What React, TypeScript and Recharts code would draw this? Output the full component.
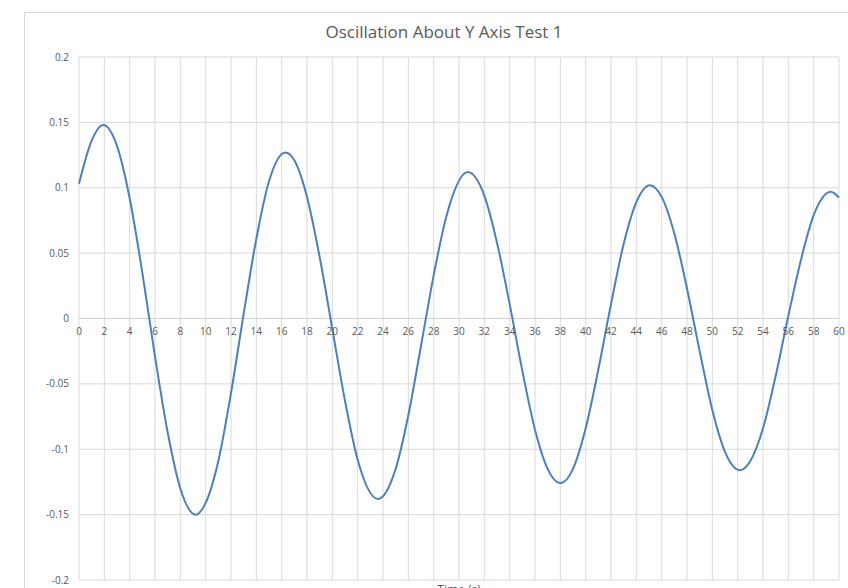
import React from 'react';
import { LineChart, Line, XAxis, YAxis, CartesianGrid, ReferenceLine, ReferenceDot } from 'recharts';

const timeValues: number[] = [
  0, 1, 1.92, 3, 4, 5, 6, 7, 8, 9.21,
  10, 11, 12, 13, 14, 15, 16.3, 17, 18, 19,
  20, 21, 22, 23.6, 25, 26, 27, 28, 29, 30.7,
  32, 33, 34, 35, 36, 37, 38, 39, 40, 41,
  42, 43, 44, 45.07, 46, 47, 48, 49, 50, 51,
  52.17, 53, 54, 55, 56, 57, 58, 59.35, 60,
];

const angleValues: number[] = [
  0.103, 0.136, 0.148, 0.132, 0.092, 0.035, -0.029, -0.087, -0.13, -0.15,
  -0.141, -0.109, -0.057, 0.0035, 0.061, 0.105, 0.127, 0.121, 0.093, 0.047,
  -0.008, -0.063, -0.108, -0.138, -0.115, -0.074, -0.021, 0.033, 0.078, 0.112,
  0.094, 0.058, 0.011, -0.04, -0.085, -0.115, -0.126, -0.115, -0.084, -0.039,
  0.011, 0.057, 0.089, 0.102, 0.093, 0.065, 0.023, -0.025, -0.07, -0.102,
  -0.116, -0.109, -0.084, -0.044, 0.002, 0.045, 0.079, 0.097, 0.0925,
];

const xTicks: number[] = [
  0, 2, 4, 6, 8, 10, 12, 14, 16, 18, 20, 22, 24, 26, 28, 30,
  32, 34, 36, 38, 40, 42, 44, 46, 48, 50, 52, 54, 56, 58, 60,
];

const yTicks: number[] = [-0.2, -0.15, -0.1, -0.05, 0, 0.05, 0.1, 0.15, 0.2];

const chartTitle = 'Oscillation About Y Axis Test 1';
const xAxisTitle = 'Time (s)';

const data = timeValues.map((t, i) => ({ t, angle: angleValues[i] }));

const FONT = '"Open Sans", "Liberation Sans", sans-serif';
const TEXT_GREY = '#595959';

const EmptyTick = () => <g />;

export default function App() {
  return (
    <div
      style={{
        position: 'absolute',
        left: 0,
        top: 0,
        width: 848,
        height: 588,
        overflow: 'hidden',
        background: '#ffffff',
        fontFamily: FONT,
      }}
    >
      <div
        style={{
          position: 'absolute',
          left: 24,
          top: 12,
          width: 900,
          height: 700,
          border: '1px solid #d9d9d9',
          boxSizing: 'border-box',
        }}
      />
      <div
        style={{
          position: 'absolute',
          left: 0,
          top: 21,
          width: 888,
          textAlign: 'center',
          fontSize: 17,
          color: TEXT_GREY,
          lineHeight: '22px',
        }}
      >
        {chartTitle}
      </div>
      <div style={{ position: 'absolute', left: 0, top: 0 }}>
        <LineChart
          width={848}
          height={610}
          data={data}
          margin={{ top: 57, right: 9, bottom: 0, left: 39 }}
        >
          <CartesianGrid stroke="#d9d9d9" strokeWidth={1} />
          <XAxis
            dataKey="t"
            type="number"
            domain={[0, 60]}
            ticks={xTicks}
            interval={0}
            axisLine={false}
            tickLine={false}
            tick={EmptyTick}
            height={30}
            label={{
              value: xAxisTitle,
              position: 'insideTop',
              offset: 5,
              fill: TEXT_GREY,
              fontSize: 12,
              fontFamily: FONT,
            }}
          />
          <YAxis
            type="number"
            domain={[-0.2, 0.2]}
            ticks={yTicks}
            interval={0}
            width={40}
            axisLine={false}
            tickLine={false}
            tickMargin={4}
            tick={{ fill: TEXT_GREY, fontSize: 10, fontFamily: FONT }}
            tickFormatter={(v: number) => String(v)}
          />
          <ReferenceLine y={0} stroke="#d0d0d0" strokeWidth={1} />
          {xTicks.map((t) => (
            <ReferenceDot
              key={t}
              x={t}
              y={0}
              r={0}
              fill="none"
              stroke="none"
              ifOverflow="visible"
              label={{
                value: String(t),
                position: 'bottom',
                offset: 9,
                fill: TEXT_GREY,
                fontSize: 10,
                fontFamily: FONT,
              }}
            />
          ))}
          <Line
            type="monotone"
            dataKey="angle"
            stroke="#4e7fbb"
            strokeWidth={2}
            dot={false}
            isAnimationActive={false}
          />
        </LineChart>
      </div>
    </div>
  );
}
